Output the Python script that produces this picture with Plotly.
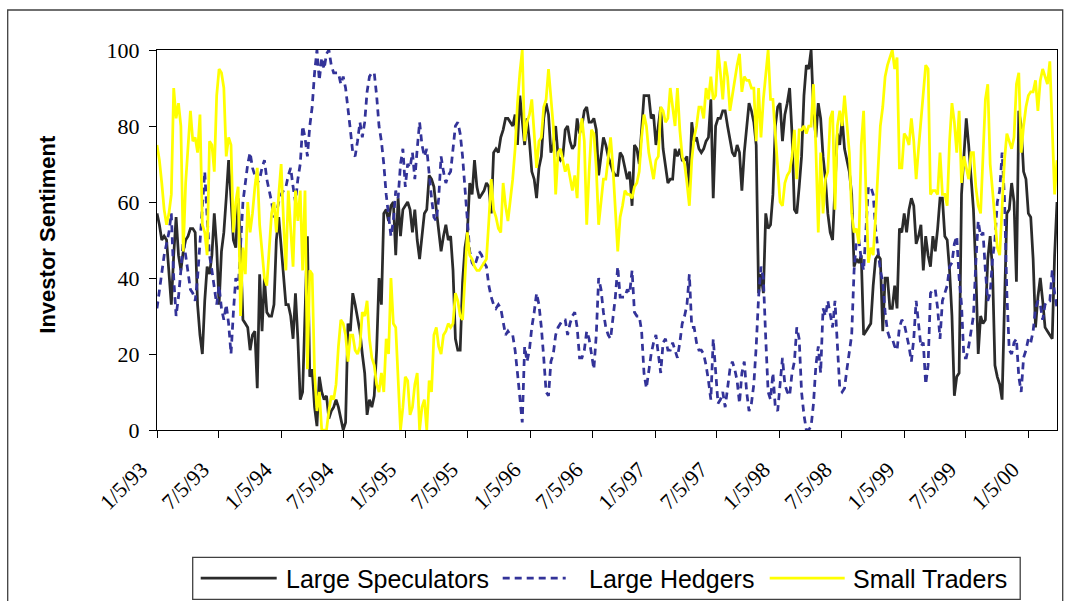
import pandas as pd
import plotly.graph_objects as go

# ---------------- data ----------------
START_DATE = "1993-01-05"   # weekly observations (Tuesdays)
END_DATE = "2000-03-28"

LARGE_SPECULATORS = [
    57,54,50,51,50,41,33,46,56,46, 42,47,50,51,53,53,52,33,25,20,
    34,43,41,46,57,48,33,47,52,61, 71,61,50,48,61,48,29,28,27,21,
    25,26,11,41,26,40,31,30,30,33, 50,56,48,40,33,33,30,24,36,24,
    8,10,28,51,14,16,6,1,14,10, 8,9,3,5,6,8,6,3,0,2,
    28,26,36,33,29,26,20,15,4,8, 6,9,21,40,33,57,58,55,59,60,
    46,61,51,58,59,60,58,52,58,50, 45,51,57,58,67,66,64,58,52,47,
    51,54,50,
    51,42,24,21,21,39,48,
    52,65,62,71,64,61,62,63,65,64, 57,73,74,73,77,79,82,82,81,80,
    83,75,88,82,75,82,76,68,66,61, 69,72,82,86,83,73,75,80,72,71,
    72,79,80,76,74,75,82,78,80,84, 85,81,81,82,79,67,
    72,77,75,72,
    70,68,67,67,73,72,69,66,68,59, 75,74,70,78,88,88,88,82,83,75,
    80,85,74,70,65,66,66,74,72,74, 71,71,72,63,81,76,77,74,73,74,
    76,77,87,61,80,82,82,84,84,80, 76,73,72,75,73,63,73,80,86,
    84,
    81,75,36,41,36,57,53,54,62,80, 85,86,76,83,86,90,78,58,57,64,
    72,88,96,95,100,84,77,86,82,72, 66,57,52,50,63,78,75,82,74,71,
    68,62,43,45,44,46,25,26,27,28, 38,45,46,45,26,40,40,32,32,38,32,
    53,52,57,52,58,61,59,49,51,
    54,42,51,46,43,51,47,53,61,61, 51,50,42,30,9,14,15,62,72,82,
    75,66,58,42,20,30,28,29,45,51, 42,17,14,12,8,33,57,58,65,60,
    39,84,80,68,66,57,56,45,27,35, 40,34,27,26,25,24,46,60,
]

LARGE_HEDGERS = [
    32,37,42,46,49,52,57,40,30,35, 42,50,46,41,37,36,34,40,50,60,
    68,56,46,42,38,33,38,32,29,33, 28,20,31,40,37,47,60,65,70,73,
    69,67,65,66,69,71,66,63,60,56, 57,60,62,63,64,67,69,64,60,66,
    70,80,77,72,80,85,94,100,92,98, 95,99,100,96,94,94,94,91,93,90,
    85,79,73,72,76,81,77,81,89,93, 94,94,88,80,76,70,62,57,51,55,
    63,61,70,74,64,70,69,73,66,74, 81,75,72,74,67,61,56,55,61,72,
    68,65,67,
    68,74,80,81,78,72,63,
    56,47,44,43,45,47,46,44,43,38, 35,33,32,33,32,28,25,26,25,25,
    21,15,9,2,22,18,21,27,31,36, 33,27,19,10,9,18,20,25,27,28,
    29,29,25,28,30,31,27,19,19,21, 26,24,20,16,25,40,
    37,31,27,25,
    24,29,35,43,35,35,35,37,36,42, 31,30,30,26,15,11,16,20,23,25,
    20,15,23,24,21,21,23,21,19,23, 28,30,33,41,27,27,23,21,21,20,
    17,13,8,24,15,7,8,10,6,11, 16,18,16,13,7,15,18,10,5,
    7,
    12,22,35,43,40,24,10,8,15,6, 5,12,19,12,10,9,15,18,27,24,
    10,4,0,0,1,7,17,22,15,32, 30,34,30,27,34,21,11,10,11,16,
    21,25,42,50,50,45,42,52,64,64, 62,53,47,42,39,31,26,24,24,22,21,
    27,29,28,25,22,18,24,34,27,
    22,23,12,17,36,37,37,32,24,34, 36,38,43,44,49,51,40,33,19,19,
    22,26,30,44,55,51,52,42,34,36, 45,50,60,63,73,61,36,21,20,23,
    24,14,10,19,21,24,23,26,32,34, 33,29,33,34,34,42,36,32,
]

SMALL_TRADERS = [
    75,71,65,58,54,57,62,90,82,86, 80,47,65,76,84,76,77,73,83,54,
    52,46,76,75,68,88,95,94,90,72, 77,75,52,60,64,30,48,41,60,52,
    57,64,69,54,47,40,38,48,57,60, 52,62,70,55,42,63,52,43,63,55,
    63,42,63,16,42,41,15,5,10,0, 0,0,5,9,8,12,22,29,28,25,
    18,25,25,21,20,22,31,30,34,24, 19,17,12,10,15,10,24,20,40,28,
    27,15,0,6,14,13,4,6,12,15, 0,6,8,0,13,10,25,27,22,20,
    25,26,28,
    27,28,36,34,30,29,40,
    52,46,45,43,42,42,43,44,45,55, 66,58,56,53,52,65,59,55,60,66,
    74,86,94,100,76,81,83,87,78,69, 76,77,85,87,95,87,80,62,73,74,
    71,68,70,66,63,67,61,77,82,76, 54,68,79,78,69,54,
    60,66,66,71,
    77,69,57,47,56,59,63,62,62,61, 64,65,68,77,83,80,73,69,66,71,
    72,85,84,81,82,90,85,80,90,79, 72,70,65,59,71,77,80,85,85,82,
    90,87,93,87,88,100,94,87,97,93, 84,88,93,96,99,89,93,92,92,
    90,
    90,76,90,77,87,94,100,87,87,78, 70,60,59,65,67,68,72,79,66,79,
    79,80,78,80,80,91,74,52,73,57, 66,68,82,84,58,80,84,80,88,80,
    73,57,52,53,49,75,84,62,44,48, 46,56,68,80,85,93,96,98,100,95,98,
    69,69,78,77,75,82,76,66,74,
    81,87,96,95,62,63,63,62,73,62, 62,59,76,86,81,73,84,65,72,69,
    66,73,73,64,59,57,72,87,91,70, 63,56,48,46,60,71,78,76,74,77,
    91,94,73,80,85,88,89,89,92,84, 92,95,93,91,97,80,62,71,
]

TICK_DATES = ["1993-01-05", "1993-07-05", "1994-01-05", "1994-07-05", "1995-01-05",
              "1995-07-05", "1996-01-05", "1996-07-05", "1997-01-05", "1997-07-05",
              "1998-01-05", "1998-07-05", "1999-01-05", "1999-07-05", "2000-01-05"]
TICK_LABELS = ["1/5/93", "7/5/93", "1/5/94", "7/5/94", "1/5/95", "7/5/95", "1/5/96",
               "7/5/96", "1/5/97", "7/5/97", "1/5/98", "7/5/98", "1/5/99", "7/5/99", "1/5/00"]

SERIES_NAMES = ["Large Speculators", "Large Hedgers", "Small Traders"]

n = len(LARGE_SPECULATORS)
assert n == len(LARGE_HEDGERS) == len(SMALL_TRADERS), (n, len(LARGE_HEDGERS), len(SMALL_TRADERS))
dates = pd.date_range(START_DATE, periods=n, freq="7D")

# ---------------- styling ----------------
W, H = 1065, 601
PL, PR, PT, PB = 157.3, 1057.3, 50, 430   # plot area in pixels

def px_x(p):
    return (p - PL) / (PR - PL)

def px_y(p):
    return (PB - p) / (PB - PT)

COL_SPEC = "#2b2b2b"
COL_HEDG = "#333399"
COL_SMALL = "#ffff00"
DASH = "7px,5px"
LW = 2.75

fig = go.Figure()
fig.add_trace(go.Scatter(x=dates, y=LARGE_SPECULATORS, mode="lines", name=SERIES_NAMES[0],
                         line=dict(color=COL_SPEC, width=LW)))
fig.add_trace(go.Scatter(x=dates, y=LARGE_HEDGERS, mode="lines", name=SERIES_NAMES[1],
                         line=dict(color=COL_HEDG, width=LW, dash=DASH)))
fig.add_trace(go.Scatter(x=dates, y=SMALL_TRADERS, mode="lines", name=SERIES_NAMES[2],
                         line=dict(color=COL_SMALL, width=LW)))

tick_font = dict(family="Liberation Serif, Times New Roman, serif", size=22, color="black")

fig.update_layout(
    width=W, height=H,
    margin=dict(l=PL, r=W - PR, t=PT, b=H - PB, pad=0),
    paper_bgcolor="white", plot_bgcolor="white",
    showlegend=False,
    xaxis=dict(
        type="date", range=[START_DATE, END_DATE],
        tickmode="array", tickvals=TICK_DATES, ticktext=TICK_LABELS,
        tickangle=-45, tickfont=tick_font,
        ticklabelstandoff=10, ticklabelshift=-16,
        ticks="outside", ticklen=7, tickwidth=1, tickcolor="black",
        showline=True, linecolor="black", linewidth=1, mirror=True,
        showgrid=False, zeroline=False,
    ),
    yaxis=dict(
        range=[0, 100], tickmode="array", tickvals=[0, 20, 40, 60, 80, 100],
        tickfont=tick_font, ticklabelstandoff=5,
        ticks="outside", ticklen=7, tickwidth=1, tickcolor="black",
        showline=True, linecolor="black", linewidth=1, mirror=True,
        showgrid=False, zeroline=False,
    ),
)

shapes = []
annotations = []

# outer chart-area border
shapes.append(dict(type="rect", xref="paper", yref="paper",
                   x0=px_x(8), x1=px_x(1063), y0=px_y(640), y1=px_y(10),
                   line=dict(color="#404040", width=1.3), fillcolor="rgba(0,0,0,0)", layer="below"))

# y-axis title
annotations.append(dict(xref="paper", yref="paper", x=px_x(48), y=px_y(234),
                        text="<b>Investor Sentiment</b>", textangle=-90, showarrow=False,
                        font=dict(family="Liberation Sans, Arial, sans-serif", size=22, color="black"),
                        xanchor="center", yanchor="middle"))

# legend (box, samples, labels)
LEG_Y = 578
shapes.append(dict(type="rect", xref="paper", yref="paper",
                   x0=px_x(193), x1=px_x(1020.5), y0=px_y(599.3), y1=px_y(557.3),
                   line=dict(color="#404040", width=1.3), fillcolor="white"))
legend_items = [
    (SERIES_NAMES[0], COL_SPEC, "solid", 201, 277, 284.5),
    (SERIES_NAMES[1], COL_HEDG, DASH, 503, 566, 587),
    (SERIES_NAMES[2], COL_SMALL, "solid", 770, 845, 851.5),
]
for name, col, dash, xa, xb, xt in legend_items:
    shapes.append(dict(type="line", xref="paper", yref="paper",
                       x0=px_x(xa), x1=px_x(xb), y0=px_y(LEG_Y), y1=px_y(LEG_Y),
                       line=dict(color=col, width=LW, dash=dash)))
    annotations.append(dict(xref="paper", yref="paper", x=px_x(xt), y=px_y(LEG_Y + 1),
                            text=name, showarrow=False, xanchor="left", yanchor="middle",
                            font=dict(family="Liberation Sans, Arial, sans-serif", size=25, color="black")))

fig.update_layout(shapes=shapes, annotations=annotations)

fig.write_html("out.html", config={"displayModeBar": False},
               post_script="document.body.style.margin='0';document.body.style.overflow='hidden';")
